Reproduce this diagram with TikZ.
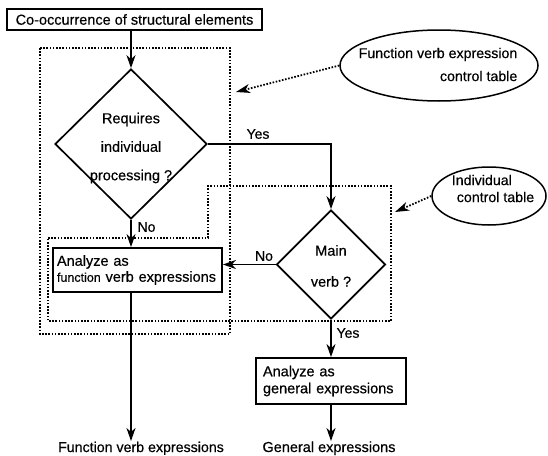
\documentclass[tikz,border=0pt]{standalone}
\usepackage{fontspec}
\setmainfont{Liberation Sans}[UprightFeatures={FakeBold=0.4}]
\usetikzlibrary{shapes.geometric,arrows.meta}
\begin{document}
\begin{tikzpicture}[x=1pt,y=-1pt,
  every node/.style={font=\fontsize{14.5}{17}\selectfont},
  proc/.style={draw, line width=1.8pt, inner sep=0pt},
  decision/.style={draw, diamond, line width=1.7pt, inner sep=0pt},
  oval/.style={draw, ellipse, line width=1.5pt, inner sep=0pt},
  flow/.style={line width=1.7pt, -{Stealth[length=13pt,width=9pt,inset=4pt]}},
  frame/.style={line width=1.8pt, dash pattern=on 1.6pt off 1.6pt},
  refarrow/.style={line width=1.8pt, dash pattern=on 1.6pt off 1.6pt, -{Stealth[length=14pt,width=9pt,inset=4pt]}},
  lbl/.style={font=\fontsize{14}{16}\selectfont, inner sep=0pt}
]
\useasboundingbox (0,0) rectangle (548,455);

% group frames
\draw[frame] (40,48) rectangle (230,334);
\draw[frame] (48,238) -- (208,238) -- (208,186) -- (391,186) -- (391,321) -- (48,321) -- cycle;

% nodes
\node[proc, minimum width=255pt, minimum height=21pt] (start) at (134.5,19.5) {Co-occurrence of structural elements};

\node[decision, minimum width=152pt, minimum height=150pt] (d1) at (131,144) {};
\node[align=center, font=\fontsize{14.5}{28.5}\selectfont] (d1t) at (131,148) {Requires\\individual\\processing ?};

\node[decision, minimum width=109pt, minimum height=109pt] (d2) at (331,264.5) {};
\node[align=center, font=\fontsize{14.5}{31}\selectfont] (d2t) at (331,266) {Main\\verb ?};

\node[proc, minimum width=169pt, minimum height=44pt, text width=161pt, align=left, font=\fontsize{14.5}{16}\selectfont] (fa) at (137.5,270) {Analyze as\\{\fontsize{12.5}{16}\selectfont function} verb expressions};

\node[proc, minimum width=150pt, minimum height=46pt, text width=136pt, align=left, font=\fontsize{14.5}{17}\selectfont] (ga) at (331,381) {Analyze as\\general expressions};

\node[anchor=base, font=\fontsize{14.2}{17}\selectfont] (fvout) at (141,452) {Function verb expressions};
\node[anchor=base, font=\fontsize{14.5}{17}\selectfont] (gout) at (329,452) {General expressions};

\node[oval, minimum width=198pt, minimum height=71pt] (e1) at (439,65.5) {};
\node[align=right, font=\fontsize{14.2}{23}\selectfont] (e1t) at (438,64.5) {Function verb expression\\control table};

\node[oval, minimum width=114pt, minimum height=58pt] (e2) at (489,196) {};
\node[align=left, font=\fontsize{14.2}{17}\selectfont] (e2t) at (493,188.5) {Individual\\\hspace*{5pt}control table};

% free ends
\coordinate (r1) at (236,92);
\coordinate (r2) at (395,212);
\coordinate (fvend) at (131,441);
\coordinate (gend) at (331,441);

% connectors
\draw[flow] (start.south -| d1.north) -- (d1.north);
\draw[flow] (d1.south) -- (d1.south |- fa.north);
\node[lbl] (no1) at (146.5,227) {No};
\draw[flow] (d1.east) -| (d2.north);
\node[lbl] (yes1) at (258,134) {Yes};
\draw[flow] (d2.west) -- (d2.west -| fa.east);
\node[lbl] (no2) at (264,256) {No};
\draw[flow] (d2.south) -- (ga.north);
\node[lbl] (yes2) at (348,333) {Yes};
\draw[flow] (fa.south -| d1.south) -- (fvend);
\draw[flow] (ga.south) -- (gend);

\draw[refarrow] (e1.west) -- (r1);
\draw[refarrow] (e2.west) -- (r2);
\end{tikzpicture}
\end{document}
